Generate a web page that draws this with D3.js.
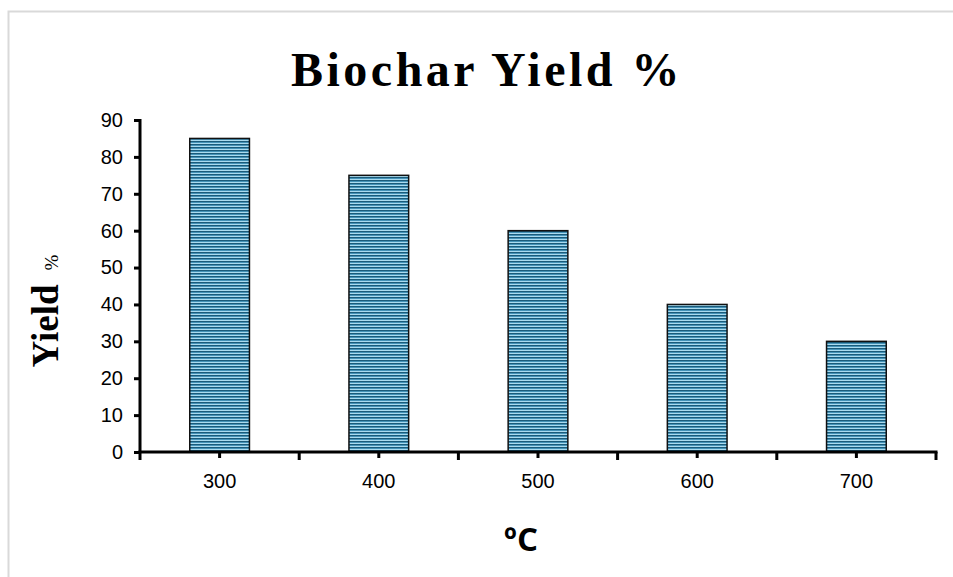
<!doctype html>
<html>
<head>
	<title>Biochar Yield %</title>
	<script src="https://d3js.org/d3.v7.min.js"></script>
	<style>
	body{ margin:0; background:#fff; }
	svg{ display:block; }
	</style>
</head>
<body>
<svg id="chart" width="953" height="577"></svg>
<script>

// chart data
var temps = ["300", "400", "500", "600", "700"];
var yields = [85, 75, 60, 40, 30];
var yTicks = [0, 10, 20, 30, 40, 50, 60, 70, 80, 90];

var svg = d3.select("#chart");

var margin = {top: 120, right: 17, bottom: 125, left: 140},
    width = 953 - margin.left - margin.right,
    height = 577 - margin.top - margin.bottom;

// striped fill for the bars
var defs = svg.append("defs");
var pat = defs.append("pattern")
    .attr("id", "stripes")
    .attr("patternUnits", "userSpaceOnUse")
    .attr("width", 6).attr("height", 3);
pat.append("rect").attr("width", 6).attr("height", 3).attr("fill", "#aadbef");
pat.append("rect").attr("y", 0).attr("width", 6).attr("height", 1).attr("fill", "#1b5b7a");
pat.append("rect").attr("y", 1).attr("width", 6).attr("height", 1).attr("fill", "#4593b8");

// outer frame
svg.append("path")
    .attr("d", "M8.5,577 V11.5 H953")
    .attr("fill", "none")
    .attr("stroke", "#d9d9d9")
    .attr("stroke-width", 2);

var g = svg.append("g").attr("transform", "translate(" + margin.left + "," + margin.top + ")");

var x = d3.scaleBand()
    .domain(temps)
    .range([0, width])
    .paddingInner(0.625)
    .paddingOuter(0.3125);

var y = d3.scaleLinear()
    .domain([0, 90])
    .range([height, 0]);

// bars
g.selectAll("rect.bar")
    .data(yields)
    .enter().append("rect")
    .attr("class", "bar")
    .attr("x", function(d, i) { return x(temps[i]); })
    .attr("y", function(d) { return y(d); })
    .attr("width", x.bandwidth())
    .attr("height", function(d) { return height - y(d); })
    .attr("fill", "url(#stripes)")
    .attr("stroke", "#111")
    .attr("stroke-width", 1.5);

// y axis
var yAxis = g.append("g")
    .call(d3.axisLeft(y).tickValues(yTicks).tickSize(6).tickPadding(11));
yAxis.select(".domain").attr("stroke", "#000").attr("stroke-width", 3)
    .attr("d", "M0," + (y(90) - 1) + "V" + height);
yAxis.selectAll(".tick line").attr("stroke-width", 3);
yAxis.selectAll("text")
    .attr("font-family", "Liberation Sans, Arial, sans-serif")
    .attr("font-size", 20).attr("fill", "#000");

// x axis: ticks at category boundaries and centres
var step = x.step();
var boundaries = d3.range(temps.length + 1).map(function(i) { return i * step; });
var xAxis = g.append("g").attr("transform", "translate(0," + height + ")")
    .call(d3.axisBottom(x).tickSize(6).tickPadding(16));
xAxis.select(".domain").attr("stroke", "#000").attr("stroke-width", 3)
    .attr("d", "M-1.5,0H" + (width + 1.5));
xAxis.selectAll(".tick line").attr("stroke-width", 3);
xAxis.selectAll("text")
    .attr("font-family", "Liberation Sans, Arial, sans-serif")
    .attr("font-size", 20).attr("fill", "#000");
xAxis.selectAll("line.bound")
    .data(boundaries)
    .enter().append("line")
    .attr("class", "bound")
    .attr("x1", function(d) { return d; }).attr("x2", function(d) { return d; })
    .attr("y1", 0).attr("y2", 8)
    .attr("stroke", "#000").attr("stroke-width", 3);

// title
svg.append("text")
    .attr("x", 487).attr("y", 86)
    .attr("text-anchor", "middle")
    .attr("font-family", "Liberation Serif, Times New Roman, serif")
    .attr("font-weight", "bold")
    .attr("font-size", 48)
    .attr("letter-spacing", 3.5)
    .text("Biochar Yield %");

// y axis title
var yt = svg.append("text")
    .attr("transform", "translate(58,311) rotate(-90)")
    .attr("text-anchor", "middle")
    .attr("font-family", "Liberation Serif, Times New Roman, serif")
    .attr("font-weight", "bold")
    .attr("font-size", 37);
yt.append("tspan").text("Yield");
yt.append("tspan").attr("dx", 14).attr("font-size", 19).attr("font-weight", "normal").text("%");

// x axis title
svg.append("text")
    .attr("x", 521).attr("y", 551)
    .attr("text-anchor", "middle")
    .attr("font-family", "Open Sans, DejaVu Sans, sans-serif")
    .attr("font-weight", "bold")
    .attr("font-size", 33)
    .text("ºC");

</script>
</body>
</html>
